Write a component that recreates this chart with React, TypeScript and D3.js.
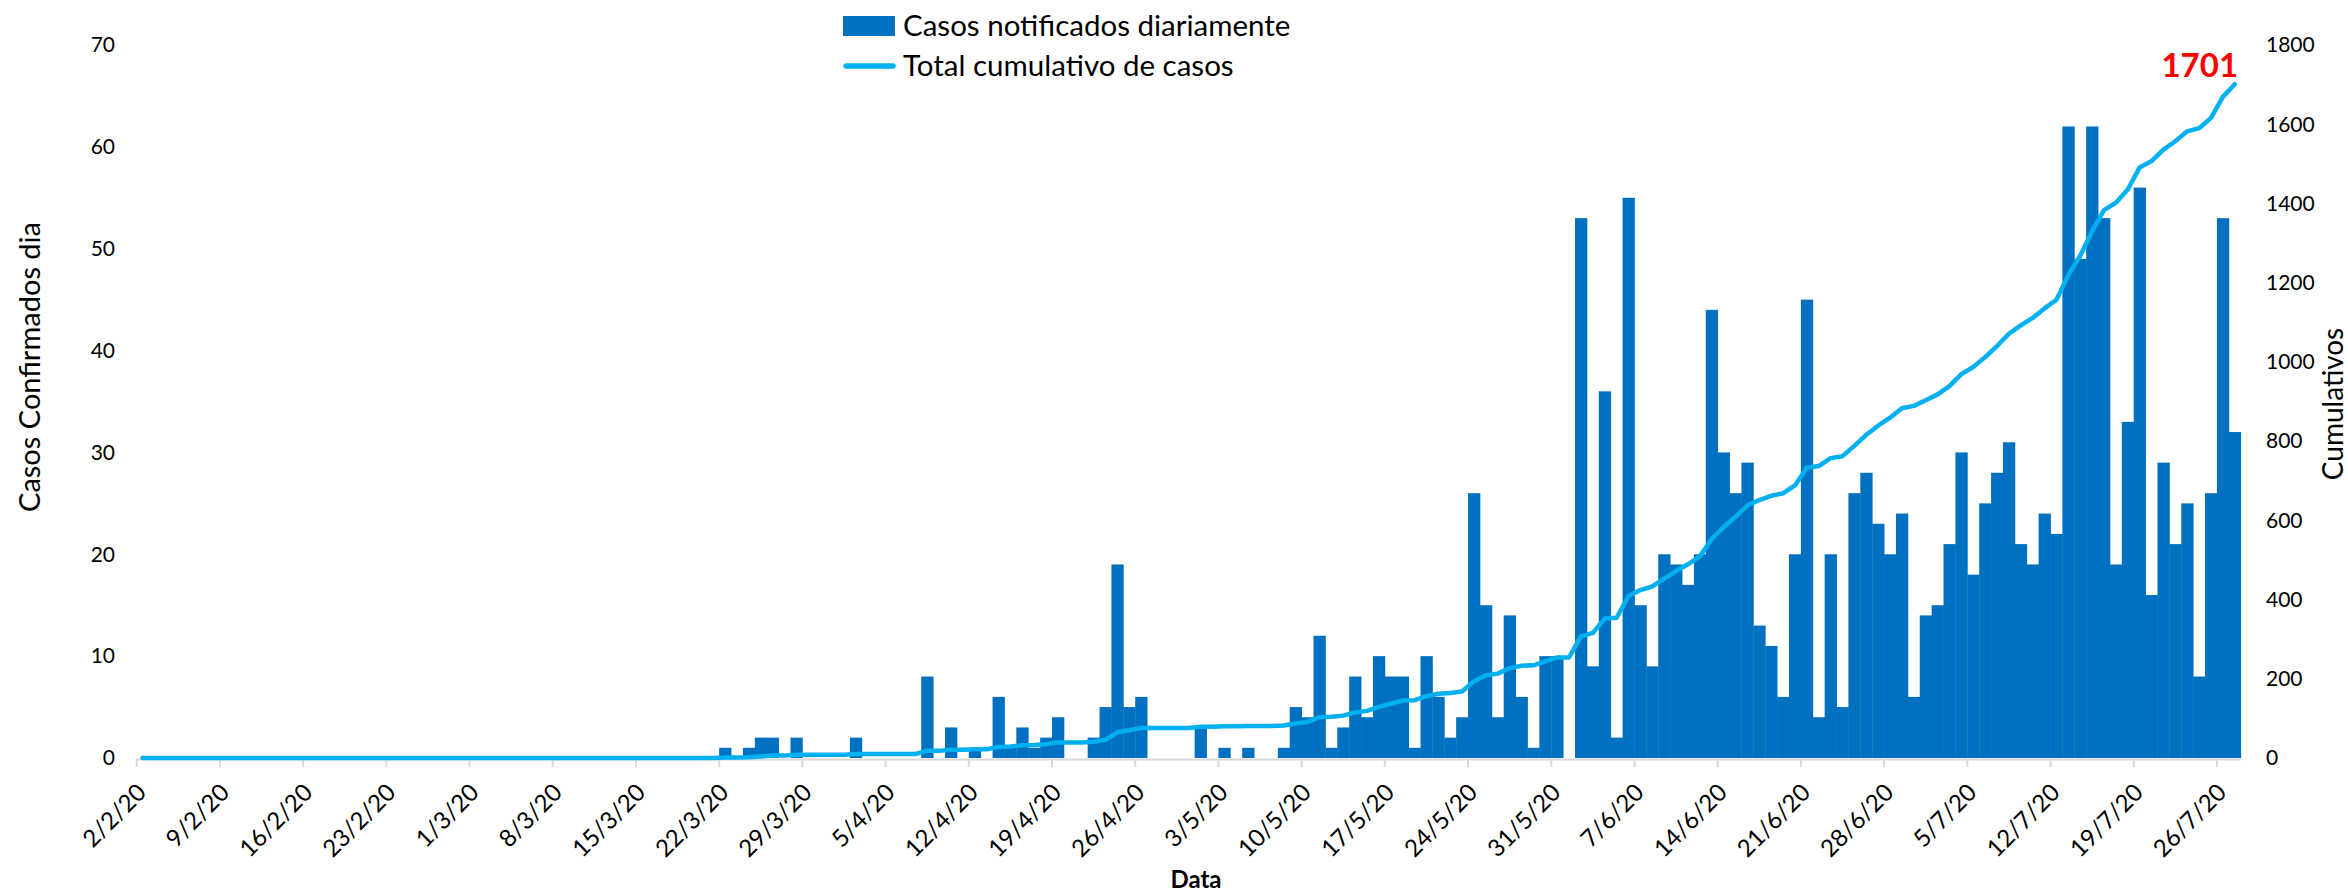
import React, { useEffect, useRef } from 'react'
import * as d3 from 'd3'

const W = 2348
const H = 893
// plot box
const plot = { left: 136.7, right: 2240.7, top: 45, bottom: 758 }

const barColor = '#0070C0'
const lineColor = '#00B0F0'
const fontFamily = 'Lato, "Open Sans", sans-serif'

// one category per day, 2/2/20 .. 27/7/20
const days = d3.timeDay.range(new Date(2020, 1, 2), new Date(2020, 6, 28))

// Casos notificados diariamente
const dailyCases = [
  0, 0, 0, 0, 0, 0, 0, 0, 0, 0,
  0, 0, 0, 0, 0, 0, 0, 0, 0, 0,
  0, 0, 0, 0, 0, 0, 0, 0, 0, 0,
  0, 0, 0, 0, 0, 0, 0, 0, 0, 0,
  0, 0, 0, 0, 0, 0, 0, 0, 0,
  // 22/3 - 31/3
  1, 0, 1, 2, 2, 0, 2, 0, 0, 0,
  // abril
  0, 2, 0, 0, 0, 0, 0, 8, 0, 3, 0, 1, 0, 6, 1, 3, 1, 2, 4, 0, 0, 2, 5, 19, 5, 6, 0, 0, 0, 0,
  // maio
  3, 0, 1, 0, 1, 0, 0, 1, 5, 4, 12, 1, 3, 8, 4, 10, 8, 8, 1, 10, 6, 2, 4, 26, 15, 4, 14, 6, 1, 10, 10,
  // junho
  0, 53, 9, 36, 2, 55, 15, 9, 20, 19, 17, 20, 44, 30, 26, 29, 13, 11, 6, 20, 45, 4, 20, 5, 26, 28, 23, 20, 24, 6,
  // julho
  14, 15, 21, 30, 18, 25, 28, 31, 21, 19, 24, 22, 62, 49, 62, 53, 19, 33, 56, 16, 29, 21, 25, 8, 26, 53, 32,
]

// Total cumulativo de casos
const cumulativeCases = [
  0, 0, 0, 0, 0, 0, 0, 0, 0, 0,
  0, 0, 0, 0, 0, 0, 0, 0, 0, 0,
  0, 0, 0, 0, 0, 0, 0, 0, 0, 0,
  0, 0, 0, 0, 0, 0, 0, 0, 0, 0,
  0, 0, 0, 0, 0, 0, 0, 0, 0,
  1, 1, 2, 4, 6, 6, 8, 8, 8, 8,
  8, 10, 10, 10, 10, 10, 10, 18, 18, 21, 21, 22, 22, 28, 29, 32, 33, 35, 39, 39, 39, 41, 46, 65, 70, 76, 76, 76, 76, 76,
  79, 79, 80, 80, 81, 81, 81, 82, 87, 91, 103, 104, 107, 115, 119, 129, 137, 145, 146, 156, 162, 164, 168, 194, 209, 213, 227, 233, 234, 244, 254,
  254, 307, 316, 352, 354, 409, 424, 433, 453, 472, 489, 509, 553, 583, 609, 638, 651, 662, 668, 688, 733, 737, 757, 762, 788, 816, 839, 859, 883, 889,
  903, 918, 939, 969, 987, 1012, 1040, 1071, 1092, 1111, 1135, 1157, 1219, 1268, 1330, 1383, 1402, 1435, 1491, 1507, 1536, 1557, 1582, 1590, 1616, 1669, 1701,
]

const xTickLabels = [
  '2/2/20', '9/2/20', '16/2/20', '23/2/20', '1/3/20', '8/3/20', '15/3/20', '22/3/20', '29/3/20',
  '5/4/20', '12/4/20', '19/4/20', '26/4/20', '3/5/20', '10/5/20', '17/5/20', '24/5/20', '31/5/20',
  '7/6/20', '14/6/20', '21/6/20', '28/6/20', '5/7/20', '12/7/20', '19/7/20', '26/7/20',
]
const leftTicks = [0, 10, 20, 30, 40, 50, 60, 70]
const rightTicks = [0, 200, 400, 600, 800, 1000, 1200, 1400, 1600, 1800]

const fmt = d3.timeFormat('%-d/%-m/%y')

const App = () => {
  const ref = useRef(null)

  useEffect(() => {
    if (!ref.current) return
    const svg = d3.select(ref.current)
    svg.selectAll('*').remove()

    const keys = days.map(d => fmt(d))
    const x = d3.scaleBand().domain(keys).range([plot.left, plot.right]).padding(0)
    const bw = x.bandwidth()
    const yL = d3.scaleLinear().domain([0, 70]).range([plot.bottom, plot.top])
    const yR = d3.scaleLinear().domain([0, 1800]).range([plot.bottom, plot.top])

    const rows = keys.map((k, i) => ({ key: k, daily: dailyCases[i], total: cumulativeCases[i] }))

    // bars
    svg.append('g')
      .selectAll('rect')
      .data(rows.filter(d => d.daily > 0))
      .enter()
      .append('rect')
      .attr('x', d => x(d.key))
      .attr('y', d => yL(d.daily))
      .attr('width', bw + 0.4)
      .attr('height', d => plot.bottom - yL(d.daily))
      .attr('fill', barColor)

    // x axis line + ticks (ticks sit between categories)
    const ax = svg.append('g')
    ax.append('line')
      .attr('x1', plot.left).attr('x2', plot.right)
      .attr('y1', plot.bottom + 1.5).attr('y2', plot.bottom + 1.5)
      .attr('stroke', '#d9d9d9').attr('stroke-width', 2)
    ax.selectAll('.tick')
      .data(xTickLabels)
      .enter()
      .append('line')
      .attr('x1', d => x(d)).attr('x2', d => x(d))
      .attr('y1', plot.bottom + 1).attr('y2', plot.bottom + 9)
      .attr('stroke', '#d9d9d9').attr('stroke-width', 2)
    ax.selectAll('.lbl')
      .data(xTickLabels)
      .enter()
      .append('text')
      .attr('transform', d => `translate(${x(d) + bw / 2 - 1},${plot.bottom + 30}) rotate(-45)`)
      .attr('text-anchor', 'end')
      .attr('dy', '0.35em')
      .attr('font-family', fontFamily)
      .attr('font-size', 24)
      .attr('fill', '#000')
      .text(d => d)

    // cumulative line
    const line = d3.line()
      .x(d => x(d.key) + bw / 2)
      .y(d => yR(d.total))
    svg.append('path')
      .datum(rows)
      .attr('d', line)
      .attr('fill', 'none')
      .attr('stroke', lineColor)
      .attr('stroke-width', 4.5)
      .attr('stroke-linejoin', 'round')
      .attr('stroke-linecap', 'round')

    // y axes labels
    svg.append('g')
      .selectAll('text')
      .data(leftTicks)
      .enter()
      .append('text')
      .attr('x', 115)
      .attr('y', d => yL(d))
      .attr('dy', '0.35em')
      .attr('text-anchor', 'end')
      .attr('font-family', fontFamily)
      .attr('font-size', 21)
      .text(d => d)

    svg.append('g')
      .selectAll('text')
      .data(rightTicks)
      .enter()
      .append('text')
      .attr('x', 2266)
      .attr('y', d => yR(d))
      .attr('dy', '0.35em')
      .attr('font-family', fontFamily)
      .attr('font-size', 21)
      .text(d => d)

    // titles
    svg.append('text')
      .attr('transform', 'translate(30,367) rotate(-90)')
      .attr('text-anchor', 'middle')
      .attr('dy', '0.35em')
      .attr('font-family', fontFamily)
      .attr('font-size', 29)
      .text('Casos Confirmados dia')
    svg.append('text')
      .attr('transform', 'translate(2333,404) rotate(-90)')
      .attr('text-anchor', 'middle')
      .attr('dy', '0.35em')
      .attr('font-family', fontFamily)
      .attr('font-size', 28)
      .text('Cumulativos')
    svg.append('text')
      .attr('x', 1196).attr('y', 888)
      .attr('text-anchor', 'middle')
      .attr('font-family', fontFamily)
      .attr('font-weight', 'bold')
      .attr('font-size', 24)
      .text('Data')

    // last value label
    const last = rows[rows.length - 1]
    svg.append('text')
      .attr('x', x(last.key) + bw / 2 - 35)
      .attr('y', 77)
      .attr('text-anchor', 'middle')
      .attr('font-family', fontFamily)
      .attr('font-weight', 'bold')
      .attr('font-size', 33)
      .attr('fill', '#FF0000')
      .text(last.total)

    // legend
    const lg = svg.append('g').attr('font-family', fontFamily).attr('font-size', 29.5)
    lg.append('rect').attr('x', 843).attr('y', 16).attr('width', 52).attr('height', 20).attr('fill', barColor)
    lg.append('text').attr('x', 903).attr('y', 36).text('Casos notificados diariamente')
    lg.append('line').attr('x1', 846).attr('x2', 893).attr('y1', 66).attr('y2', 66)
      .attr('stroke', lineColor).attr('stroke-width', 5.5).attr('stroke-linecap', 'round')
    lg.append('text').attr('x', 903).attr('y', 76).text('Total cumulativo de casos')
  }, [])

  return (
    <svg
      ref={ref}
      width={W}
      height={H}
      style={{ position: 'absolute', left: 0, top: 0, background: '#fff' }}
    ></svg>
  )
}

export default App
